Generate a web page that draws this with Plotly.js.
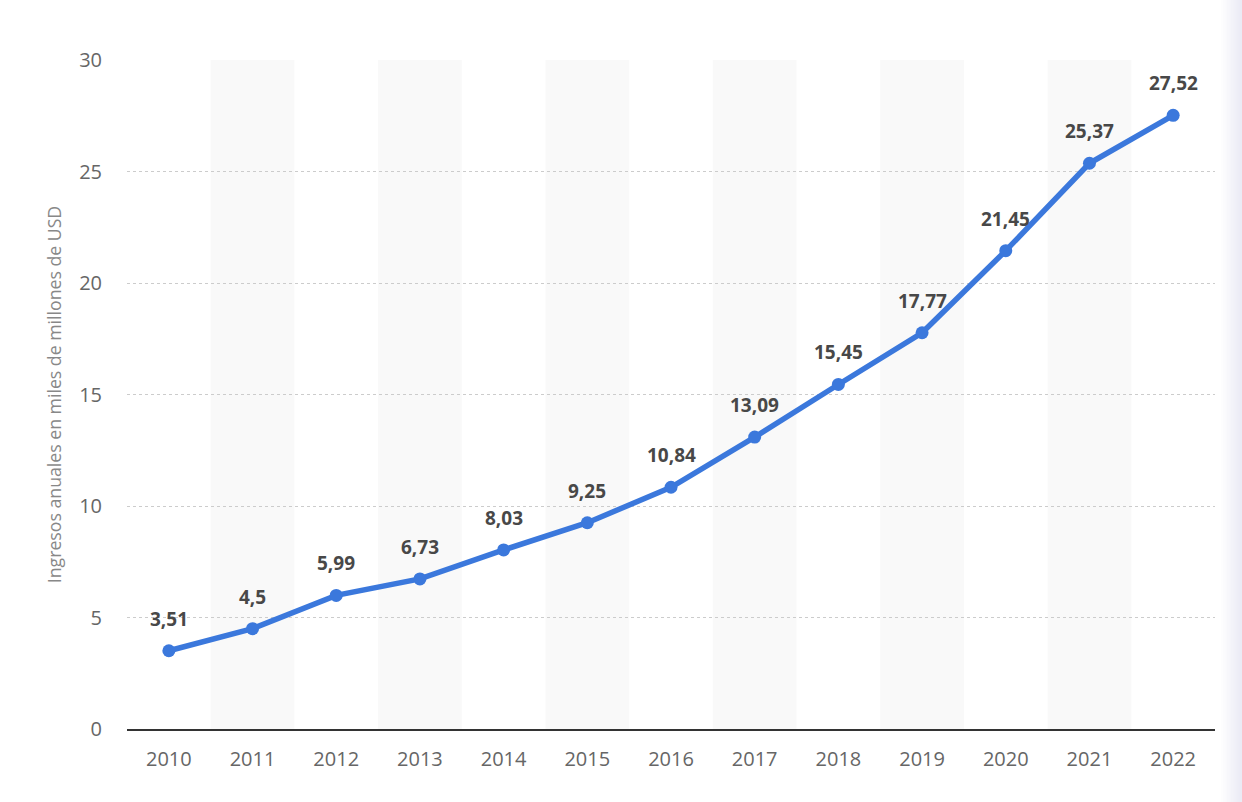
<!DOCTYPE html>
<html>
<head>
<meta charset="utf-8">
<script src="https://cdn.plot.ly/plotly-3.0.1.min.js"></script>
<style>html,body{margin:0;padding:0;background:#fff;}#chart{width:1242px;height:802px;}</style>
</head>
<body>
<div id="chart"></div>
<script>
const years = ["2010","2011","2012","2013","2014","2015","2016","2017","2018","2019","2020","2021","2022"];
const revenue = [3.51, 4.5, 5.99, 6.73, 8.03, 9.25, 10.84, 13.09, 15.45, 17.77, 21.45, 25.37, 27.52];
const labels = ["3,51","4,5","5,99","6,73","8,03","9,25","10,84","13,09","15,45","17,77","21,45","25,37","27,52"];
const yTicks = [0, 5, 10, 15, 20, 25, 30];
const yTitle = "Ingresos anuales en miles de millones de USD";

const shapes = [];
years.forEach((y, i) => {
  if (i % 2 === 1) {
    shapes.push({type:'rect', xref:'x', yref:'paper', x0:i-0.5, x1:i+0.5, y0:0, y1:1,
      fillcolor:'#f9f9f9', line:{width:0}, layer:'below'});
  }
});
// right edge soft shadow
const steps = 10;
for (let k = 0; k < steps; k++) {
  const x0 = 1.0055 + k * 0.0019;
  shapes.push({type:'rect', xref:'paper', yref:'paper', x0:x0, x1:1.03, y0:-0.12, y1:1.1,
    fillcolor:'rgba(200,208,222,0.035)', line:{width:0}, layer:'below'});
}

const annotations = years.map((y, i) => ({
  x: i, y: revenue[i], xref:'x', yref:'y', text: '<b>' + labels[i] + '</b>', showarrow:false,
  yshift: 32, yanchor:'middle', xanchor:'center',
  font:{family:'Open Sans, sans-serif', size:19, color:'#484848'}
}));

const trace = {
  x: years, y: revenue, type:'scatter', mode:'lines+markers',
  line:{color:'#3b78dc', width:5.5},
  marker:{color:'#3b78dc', size:13},
  hoverinfo:'skip', cliponaxis:false
};

const layout = {
  width:1242, height:802,
  margin:{l:127, r:27, t:60, b:73},
  paper_bgcolor:'#fff', plot_bgcolor:'rgba(0,0,0,0)',
  showlegend:false,
  font:{family:'Open Sans, sans-serif', color:'#666'},
  xaxis:{type:'category', range:[-0.5, 12.5], showgrid:false, zeroline:false,
    showline:true, linecolor:'#333', linewidth:2,
    ticks:'outside', ticklen:11, tickcolor:'rgba(0,0,0,0)',
    tickfont:{size:20, color:'#666'}, fixedrange:true},
  yaxis:{range:[0, 30], tickvals:yTicks, ticktext:yTicks.map(String),
    showgrid:true, gridcolor:'#cccccc', griddash:'dot', gridwidth:1,
    zeroline:false, showline:false,
    ticks:'outside', ticklen:20, tickcolor:'rgba(0,0,0,0)',
    tickfont:{size:20, color:'#666'},
    title:{text:yTitle, font:{size:17.7, color:'#888'}, standoff:12}, fixedrange:true},
  shapes: shapes,
  annotations: annotations
};

Plotly.newPlot('chart', [trace], layout, {displayModeBar:false, staticPlot:true});
</script>
</body>
</html>
